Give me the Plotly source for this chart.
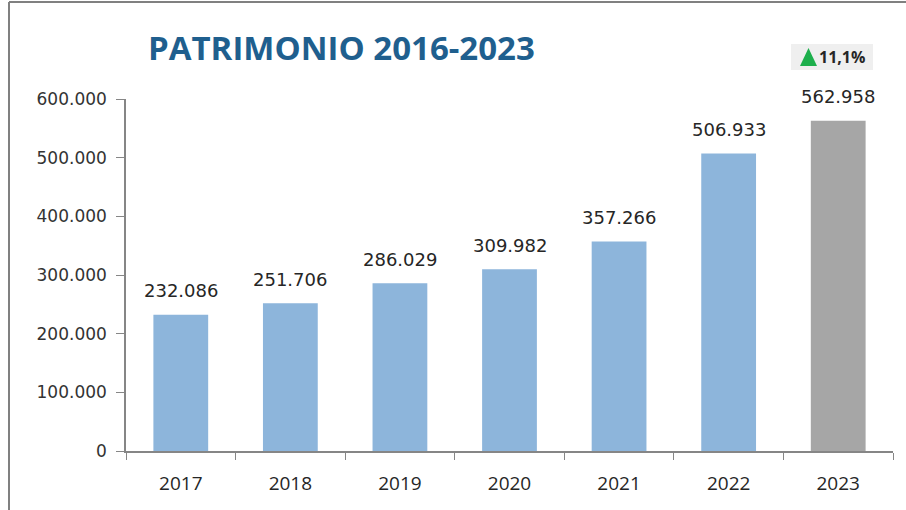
import plotly.graph_objects as go

years = ["2017", "2018", "2019", "2020", "2021", "2022", "2023"]
values = [232086, 251706, 286029, 309982, 357266, 506933, 562958]
colors = ["#8DB5DB"] * 6 + ["#A6A6A6"]
title_text = "PATRIMONIO 2016-2023"
badge_text = "11,1%"

L, R, T, B = 126, 13, 99, 59
W, H = 906, 510
pw = W - L - R
ph = H - T - B


def px(x):
    return (x - L) / pw


def py(y):
    return (H - B - y) / ph


fig = go.Figure(go.Bar(
    x=years, y=values, marker=dict(color=colors, line=dict(width=0)),
    hoverinfo="skip",
))

fig.update_layout(
    width=W, height=H, separators=",.",
    margin=dict(l=L, r=R, t=T, b=B),
    paper_bgcolor="white", plot_bgcolor="white",
    bargap=0.5, showlegend=False,
    xaxis=dict(type="category", showline=True, linecolor="#868686", linewidth=1.5,
               ticks="outside", tickson="boundaries", ticklen=7, tickcolor="#868686",
               tickfont=dict(family="Open Sans", size=19, color="#262626"),
               ticklabelstandoff=14,
               showgrid=False, zeroline=False, tickangle=0),
    yaxis=dict(range=[0, 600000], tickvals=[0, 100000, 200000, 300000, 400000, 500000, 600000],
               tickformat=",d", showline=True, linecolor="#868686", linewidth=1.5,
               ticks="outside", ticklen=8, tickcolor="#868686",
               tickfont=dict(family="DejaVu Sans", size=17, color="#333333"),
               ticklabelstandoff=6,
               showgrid=False, zeroline=False),
    font=dict(family="Open Sans"),
)

# value labels above bars
for i, v in enumerate(values):
    fig.add_annotation(x=i, y=v, xref="x", yref="y", text=f"{v:,d}".replace(",", "."),
                       showarrow=False, yanchor="middle", yshift=24,
                       font=dict(family="DejaVu Sans", size=18, color="#262626"))

# title
fig.add_annotation(text="<b>" + title_text + "</b>", xref="paper", yref="paper",
                   x=px(146), y=py(47), xanchor="left", yanchor="middle",
                   showarrow=False,
                   font=dict(family="Open Sans", size=33, color="#1F5F8E"))

# badge: box, green triangle, text
fig.add_shape(type="rect", xref="paper", yref="paper",
              x0=px(791), x1=px(873), y0=py(70), y1=py(44),
              fillcolor="#EFEFEF", line=dict(width=0), layer="below")
fig.add_shape(type="path", xref="paper", yref="paper",
              path=f"M {px(800)},{py(66)} L {px(817)},{py(66)} L {px(808.5)},{py(48)} Z",
              fillcolor="#1DAF4C", line=dict(width=0))
fig.add_annotation(text="<b>" + badge_text + "</b>", xref="paper", yref="paper",
                   x=px(817), y=py(57.5), xanchor="left", yanchor="middle", showarrow=False,
                   font=dict(family="Open Sans", size=16, color="#262626"))

# frame lines
fig.add_shape(type="line", xref="paper", yref="paper",
              x0=px(9), x1=px(9), y0=py(2), y1=py(515),
              line=dict(color="#808080", width=2))
fig.add_shape(type="line", xref="paper", yref="paper",
              x0=px(9), x1=px(910), y0=py(2), y1=py(2),
              line=dict(color="#808080", width=2))

fig.write_html("out.html", config={"displayModeBar": False},
               post_script="document.body.style.margin='0';")
